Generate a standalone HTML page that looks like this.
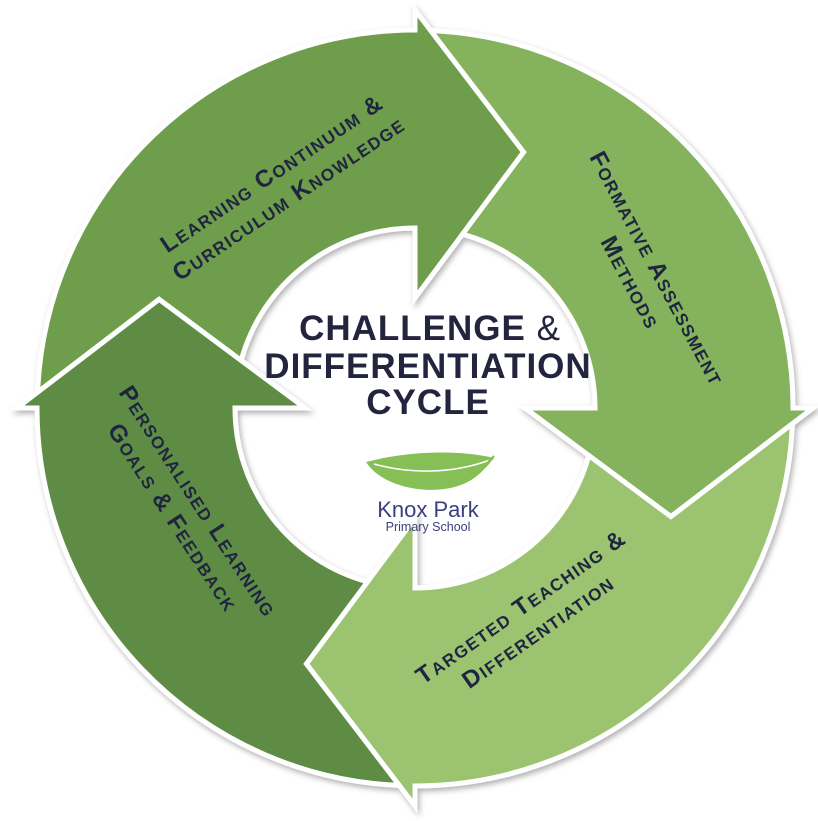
<!DOCTYPE html>
<html><head><meta charset="utf-8"><style>
html,body{margin:0;padding:0;background:#fff;}
svg{display:block;}
.lab{font-family:"Liberation Sans",sans-serif;font-weight:bold;fill:#1f2540;font-variant:small-caps;letter-spacing:1.5px;font-size:24px;}
.tt{font-family:"Liberation Sans",sans-serif;font-weight:bold;fill:#23253f;font-size:35px;letter-spacing:1px;}
</style></head><body>
<svg id="s" width="818" height="821" viewBox="0 0 818 821" xmlns="http://www.w3.org/2000/svg">
<defs><filter id="sh" x="-10%" y="-10%" width="120%" height="120%"><feDropShadow dx="2" dy="3" stdDeviation="3" flood-color="#000" flood-opacity="0.3"/></filter></defs>
<g id="arrows" filter="url(#sh)"></g>
<g>
<text class="lab" text-anchor="middle" transform="translate(283,190) rotate(-34)"><tspan x="0" y="-12">Learning Continuum &amp;</tspan><tspan x="0" y="18">Curriculum Knowledge</tspan></text>
<text class="lab" text-anchor="middle" transform="translate(645,275) rotate(62)"><tspan x="0" y="-6">Formative Assessment</tspan><tspan x="0" y="24">Methods</tspan></text>
<text class="lab" text-anchor="middle" transform="translate(530,620) rotate(-35)"><tspan x="0" y="-8">Targeted Teaching &amp;</tspan><tspan x="0" y="22">Differentiation</tspan></text>
<text class="lab" text-anchor="middle" transform="translate(185,510) rotate(57)"><tspan x="0" y="-8">Personalised Learning</tspan><tspan x="0" y="22">Goals &amp; Feedback</tspan></text>
</g>
<text class="tt" text-anchor="middle" x="430" y="340">CHALLENGE <tspan font-weight="normal">&amp;</tspan></text>
<text class="tt" text-anchor="middle" x="428" y="378">DIFFERENTIATION</text>
<text class="tt" text-anchor="middle" x="428" y="414">CYCLE</text>
<path d="M366,462 C385,492 450,500 478,475 C486,468 490,463 494,458 C470,452 420,448 366,462 Z" fill="#86bf55"/>
<path d="M374,464 C410,474 452,474 490,460" stroke="#fff" stroke-width="1.5" fill="none"/>
<path d="M488,462 L494,456" stroke="#86bf55" stroke-width="2"/>
<text x="428" y="517" text-anchor="middle" font-family="Liberation Sans,sans-serif" font-size="22" fill="#3b3f7e">Knox Park</text>
<text x="428" y="531" text-anchor="middle" font-family="Liberation Sans,sans-serif" font-size="12.5" fill="#3b3f7e">Primary School</text>
</svg>
<script>
(function(){
var cx=415,cy=408,RO=378,RI=180,HO=398,HI=110,TR=278,TA=23;
function pt(r,a){a=a*Math.PI/180;return [cx+r*Math.cos(a),cy+r*Math.sin(a)];}
function cross(p1,p2,R){for(var i=0;i<=400;i++){var t=i/400;var x=p1[0]+(p2[0]-p1[0])*t,y=p1[1]+(p2[1]-p1[1])*t;var d=Math.hypot(x-cx,y-cy);if((R>200&&d<=R)||(R<200&&d>=R))return [x,y];}return p2;}
var cols=["#6e9d4b","#85b35d","#9bc36f","#5f8c45"];
var bases=[-90,0,90,180];
var g=document.getElementById('arrows'),h='';
for(var k=0;k<4;k++){
 var b=bases[k],p=b-90;
 var pOut=pt(HO,p),pTip=pt(TR,p+TA),pIn=pt(HI,p);
 var to=cross(pOut,pTip,RO),ti=cross(pIn,pTip,RI);
 var bo=pt(RO,b),ho=pt(HO,b),tip=pt(TR,b+TA),hi=pt(HI,b),bi=pt(RI,b);
 var d='M'+to+' A'+RO+','+RO+' 0 0 1 '+bo+' L'+ho+' L'+tip+' L'+hi+' L'+bi+' A'+RI+','+RI+' 0 0 0 '+ti+' L'+pTip+' Z';
 h+='<path d="'+d+'" fill="'+cols[k]+'" stroke="#fff" stroke-width="5" stroke-linejoin="miter"/>';
}
g.innerHTML=h;
})();
</script>
</body></html>
